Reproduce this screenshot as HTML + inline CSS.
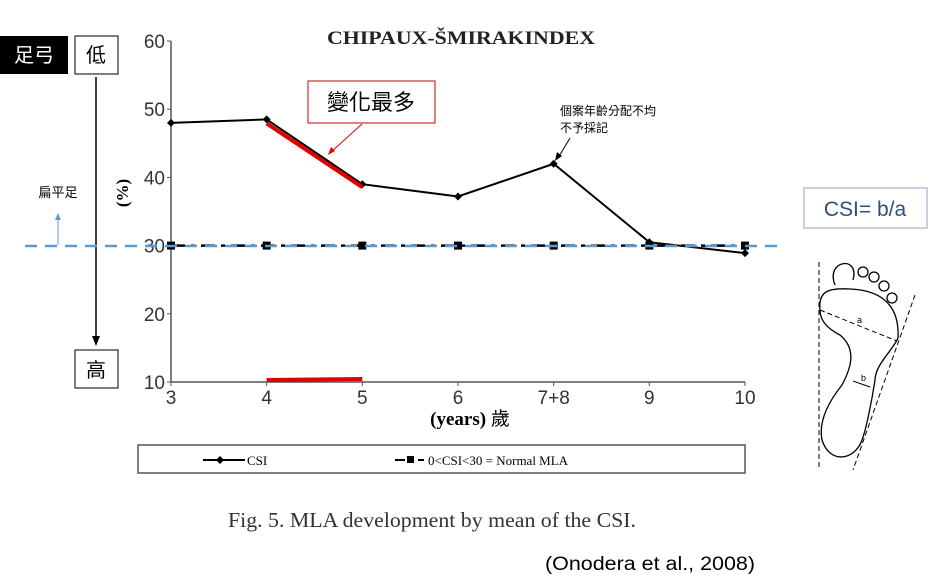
<!DOCTYPE html>
<html><head><meta charset="utf-8"><style>
body{margin:0;background:#fff;width:938px;height:581px;overflow:hidden}
svg{display:block}
text{font-family:"Liberation Sans","Noto Sans CJK TC",sans-serif}
.serif{font-family:"Liberation Serif","Noto Serif CJK SC",serif}
</style></head><body>
<svg id="chart" width="938" height="581" viewBox="0 0 938 581" xmlns="http://www.w3.org/2000/svg">
<text class="serif" x="327" y="44" font-size="19" font-weight="bold" textLength="268" lengthAdjust="spacingAndGlyphs" fill="#222">CHIPAUX-ŠMIRAKINDEX</text>
<g id="axes"></g>
<g id="marks"></g>
<rect x="0" y="36" width="68" height="38" fill="#000"/>
<text x="34" y="62" font-size="20" fill="#fff" text-anchor="middle">足弓</text>
<rect x="75" y="36" width="43" height="38" fill="#fff" stroke="#000"/>
<text x="96" y="62" font-size="20" text-anchor="middle">低</text>
<rect x="75" y="350" width="43" height="38" fill="#fff" stroke="#000"/>
<text x="96" y="377" font-size="20" text-anchor="middle">高</text>
<line x1="96" y1="77" x2="96" y2="343" stroke="#000" stroke-width="1.5"/>
<path d="M92,336 L96,346 L100,336 Z" fill="#000"/>
<text x="58" y="197" font-size="13" text-anchor="middle">扁平足</text>
<line x1="58" y1="245" x2="58" y2="217" stroke="#5b9bd5" stroke-width="1"/>
<path d="M55,220 L58,213 L61,220 Z" fill="#5b9bd5"/>
<line x1="25" y1="246" x2="780" y2="246" stroke="#5b9bd5" stroke-width="2.5" stroke-dasharray="12,8"/>
<text class="serif" transform="translate(128,193) rotate(-90)" font-size="17" font-weight="bold" text-anchor="middle">(%)</text>
<text class="serif" x="470" y="425" font-size="19" font-weight="bold" text-anchor="middle">(years) <tspan font-weight="normal" font-family="Noto Sans CJK TC,sans-serif">歲</tspan></text>
<rect x="308" y="81" width="127" height="42" fill="#fff" stroke="#c00000" stroke-width="1"/>
<text x="371" y="110" font-size="22" text-anchor="middle">變化最多</text>
<line x1="362" y1="124" x2="330" y2="153" stroke="#e00" stroke-width="1"/>
<path d="M328,155 L331,147 L335,151 Z" fill="#e00"/>
<text x="560" y="115" font-size="12">個案年齡分配不均</text>
<text x="560" y="132" font-size="12">不予採記</text>
<line x1="570" y1="138" x2="558" y2="158" stroke="#000" stroke-width="1"/>
<path d="M555,161 L557,152 L562,156 Z" fill="#000"/>
<rect x="138" y="445" width="607" height="28" fill="#fff" stroke="#555" stroke-width="1.5"/>
<line x1="203" y1="460" x2="245" y2="460" stroke="#000" stroke-width="2"/>
<path d="M220,456 L224,460 L220,464 L216,460Z" fill="#000"/>
<text class="serif" x="247" y="465" font-size="13">CSI</text>
<line x1="395" y1="460" x2="405" y2="460" stroke="#000" stroke-width="2"/>
<rect x="407" y="456" width="7" height="7" fill="#000"/>
<line x1="418" y1="460" x2="424" y2="460" stroke="#000" stroke-width="2"/>
<text class="serif" x="428" y="465" font-size="13">0&lt;CSI&lt;30 = Normal MLA</text>
<text class="serif" x="228" y="527" font-size="21" textLength="408" lengthAdjust="spacingAndGlyphs" fill="#333">Fig. 5.  MLA development by mean of the CSI.</text>
<text x="545" y="570" font-size="19" textLength="210" lengthAdjust="spacingAndGlyphs">(Onodera et al., 2008)</text>
<rect x="804" y="188" width="123" height="40" fill="#fff" stroke="#8ea4c8"/>
<text x="865" y="216" font-size="21" fill="#2f4f7f" text-anchor="middle">CSI= b/a</text>
<g fill="none" stroke="#000" stroke-width="1.3">
<path d="M820,310 C818,290 830,288 850,289 C875,290 900,300 898,338 C893,350 875,365 875,380 C872,400 866,430 862,440 C855,460 830,465 822,440 C818,420 830,400 842,385 C850,370 858,350 840,335 C830,330 820,322 820,310Z"/>
<path d="M835,285 C825,260 860,255 853,280"/>
<circle cx="863" cy="272" r="5"/><circle cx="874" cy="277" r="5"/><circle cx="884" cy="286" r="5"/><circle cx="892" cy="298" r="5"/>
<line x1="819" y1="262" x2="819" y2="470" stroke-dasharray="5,3" stroke-width="1"/>
<line x1="915" y1="295" x2="853" y2="470" stroke-dasharray="5,3" stroke-width="1"/>
<line x1="820" y1="310" x2="897" y2="341" stroke-dasharray="5,3" stroke-width="1"/>
<line x1="853" y1="381" x2="870" y2="387" stroke-width="1"/>
</g>
<text x="857" y="323" font-size="9">a</text>
<text x="861" y="381" font-size="9">b</text>
</svg>
<script>
const categories = ["3","4","5","6","7+8","9","10"];
const csiValues = [48, 48.5, 39, 37.2, 42, 30.5, 28.9];
const normalValues = [30, 30, 30, 30, 30, 30, 30];
const yTicks = [10, 20, 30, 40, 50, 60];
const NS = "http://www.w3.org/2000/svg";
const X0 = 171, X1 = 745, Y10 = 382, Y60 = 41;
function xs(i){ return X0 + i*(X1-X0)/(categories.length-1); }
function ys(v){ return Y10 - (v-10)*(Y10-Y60)/50; }
function mk(tag, attrs, parent){ const e=document.createElementNS(NS,tag); for(const k in attrs) e.setAttribute(k,attrs[k]); parent.appendChild(e); return e; }
const axes = document.getElementById('axes'), marks = document.getElementById('marks');
const ya = mk('line',{x1:X0,y1:Y60,x2:X0,y2:Y10,stroke:'#555','stroke-width':1.5},axes);


const xa = mk('line',{x1:X0,y1:Y10,x2:X1,y2:Y10,stroke:'#555','stroke-width':1.5},axes);


yTicks.forEach(v=>{
  mk('line',{x1:X0-4,y1:ys(v),x2:X0,y2:ys(v),stroke:'#555'},axes);
  const t = mk('text',{x:X0-6,y:ys(v)+7,'font-size':19,'text-anchor':'end',fill:'#333'},axes);
  t.textContent = v;
  
  
});
categories.forEach((c,i)=>{
  mk('line',{x1:xs(i),y1:Y10,x2:xs(i),y2:Y10+4,stroke:'#555'},axes);
  const t = mk('text',{x:xs(i),y:Y10+22,'font-size':19,'text-anchor':'middle',fill:'#333'},axes);
  t.textContent = c;
  
  
});
const np = mk('polyline',{points:normalValues.map((v,i)=>xs(i)+','+ys(v)).join(' '),fill:'none',stroke:'#000','stroke-width':2.5,'stroke-dasharray':'14,6,4,6'},marks);


normalValues.forEach((v,i)=>{
  const r = mk('rect',{x:xs(i)-4,y:ys(v)-4,width:8,height:8,fill:'#000'},marks);
  
  
});
const cp = mk('polyline',{points:csiValues.map((v,i)=>xs(i)+','+ys(v)).join(' '),fill:'none',stroke:'#000','stroke-width':2},marks);


csiValues.forEach((v,i)=>{
  const p = mk('path',{d:`M${xs(i)},${ys(v)-4} L${xs(i)+4},${ys(v)} L${xs(i)},${ys(v)+4} L${xs(i)-4},${ys(v)}Z`,fill:'#000'},marks);
  
  
});
const hl = mk('line',{x1:xs(1),y1:ys(csiValues[1])+4,x2:xs(2),y2:ys(csiValues[2])+3,stroke:'#e00000','stroke-width':4},marks);


const hb = mk('line',{x1:xs(1),y1:Y10-2,x2:xs(2),y2:Y10-3,stroke:'#e00000','stroke-width':4},marks);


</script>
</body></html>
